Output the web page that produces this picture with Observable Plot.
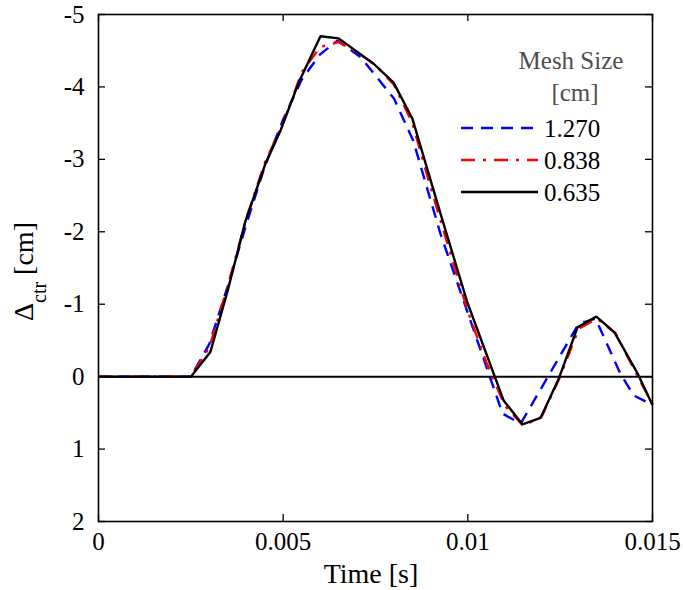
<!DOCTYPE html>
<html>
<head>
<meta charset="utf-8">
<script src="https://cdn.jsdelivr.net/npm/d3@7"></script>
<script src="https://cdn.jsdelivr.net/npm/@observablehq/plot@0.6"></script>
<style>
  html, body { margin: 0; padding: 0; background: #fff; }
  #chart svg { display: block; }
  #chart svg, #chart svg text { font-family: "Liberation Serif", "Times New Roman", serif; }
</style>
</head>
<body>
<div id="chart"></div>
<script>
// Mid-span deflection histories for three mesh sizes (time in s, deflection in cm)
const timeCoarse = [0, 0.0025, 0.003, 0.0035, 0.004, 0.0045, 0.005, 0.0055, 0.006, 0.00647, 0.0071, 0.008, 0.00852, 0.00926, 0.01094, 0.01143, 0.013, 0.01346, 0.01413, 0.01449, 0.015];
const deltaCoarse = [0, 0, -0.45, -1.25, -2.1, -2.9, -3.55, -4.1, -4.45, -4.64, -4.41, -3.84, -3.26, -1.97, 0.51, 0.65, -0.73, -0.8, -0.04, 0.26, 0.39];

const timeMedium = [0, 0.0025, 0.003, 0.0035, 0.004, 0.0045, 0.005, 0.0055, 0.006, 0.0065, 0.007, 0.0075, 0.008, 0.0085, 0.009, 0.0095, 0.01, 0.0105, 0.011, 0.0115, 0.012, 0.0125, 0.013, 0.0135, 0.014, 0.0145, 0.015];
const deltaMedium = [0, 0, -0.4, -1.25, -2.18, -2.95, -3.5, -4.2, -4.55, -4.62, -4.48, -4.3, -4.03, -3.5, -2.6, -1.75, -0.9, -0.2, 0.4, 0.68, 0.55, 0.0, -0.66, -0.8, -0.6, -0.1, 0.38];

const timeFine = [0, 0.0025, 0.00303, 0.00352, 0.00398, 0.00452, 0.00493, 0.00542, 0.00601, 0.0065, 0.00745, 0.00799, 0.0085, 0.00926, 0.00999, 0.01097, 0.01148, 0.01197, 0.01246, 0.01297, 0.01348, 0.01397, 0.0146, 0.015];
const deltaFine = [0, 0, -0.34, -1.23, -2.15, -2.94, -3.40, -4.06, -4.70, -4.67, -4.32, -4.06, -3.56, -2.25, -1.02, 0.33, 0.66, 0.57, 0.03, -0.68, -0.83, -0.61, -0.04, 0.39];

const meshSizes = ["1.270", "0.838", "0.635"];
const meshColors = ["#0000ff", "#ff0000", "#000000"];
const meshDash = ["12,8", "14,8,3,8", null];

const xTicks = [0, 0.005, 0.01, 0.015];
const xTickLabels = ["0", "0.005", "0.01", "0.015"];
const yTicks = [-5, -4, -3, -2, -1, 0, 1, 2];

const W = 683, H = 590;
const mL = 98, mR = 31, mT = 14, mB = 69;
const innerW = W - mL - mR, innerH = H - mT - mB;
const tickLen = 7;
const serif = "'Liberation Serif', 'Times New Roman', serif";

const toRows = (ts, ds) => ts.map((t, i) => ({t, d: ds[i]}));
const series = [
  toRows(timeCoarse, deltaCoarse),
  toRows(timeMedium, deltaMedium),
  toRows(timeFine, deltaFine)
];

const chart = Plot.plot({
  width: W,
  height: H,
  marginLeft: mL,
  marginRight: mR,
  marginTop: mT,
  marginBottom: mB,
  style: {fontFamily: serif, fontSize: "24px", color: "#000", background: "#fff"},
  x: {domain: [0, 0.015]},
  y: {domain: [-5, 2], reverse: true},
  marks: [
    // inward ticks on all four sides
    Plot.tickY(yTicks, {y: d => d, insetRight: innerW - tickLen, stroke: "#000", strokeWidth: 1.3}),
    Plot.tickY(yTicks, {y: d => d, insetLeft: innerW - tickLen, stroke: "#000", strokeWidth: 1.3}),
    Plot.tickX(xTicks, {x: d => d, insetTop: innerH - tickLen, stroke: "#000", strokeWidth: 1.3}),
    Plot.tickX(xTicks, {x: d => d, insetBottom: innerH - tickLen, stroke: "#000", strokeWidth: 1.3}),
    Plot.axisY(yTicks, {tickSize: 0, tickPadding: 14, fontSize: 25, fontFamily: serif, label: null, tickFormat: d => String(d)}),
    Plot.axisX(xTicks, {tickSize: 0, tickPadding: 11, fontSize: 25, fontFamily: serif, label: null, tickFormat: (d, i) => xTickLabels[i]}),
    Plot.ruleY([0], {stroke: "#000", strokeWidth: 2}),
    ...series.map((rows, i) => Plot.line(rows, {
      x: "t", y: "d",
      stroke: meshColors[i],
      strokeWidth: 2.4,
      strokeDasharray: meshDash[i],
      strokeLinejoin: "miter",
      strokeLinecap: "butt"
    })),
    Plot.frame({stroke: "#000", strokeWidth: 1.6})
  ]
});

const svg = d3.select(chart);

// axis titles
svg.append("text")
  .attr("x", mL + innerW / 2 - 4)
  .attr("y", 583)
  .attr("text-anchor", "middle")
  .attr("font-family", serif)
  .attr("font-size", 28)
  .attr("fill", "#000")
  .text("Time [s]");

const yLab = svg.append("text")
  .attr("transform", "translate(33, 321) rotate(-90)")
  .attr("text-anchor", "start")
  .attr("font-family", serif)
  .attr("font-size", 28)
  .attr("fill", "#000");
yLab.append("tspan").text("Δ");
yLab.append("tspan").attr("font-size", 20).attr("dy", 13).text("ctr");
yLab.append("tspan").attr("dy", -13).text(" [cm]");

// legend
const lg = svg.append("g").attr("font-size", 25).attr("font-family", serif);
lg.append("text").attr("x", 571).attr("y", 69).attr("text-anchor", "middle").attr("fill", "#4d4d4d").text("Mesh Size");
lg.append("text").attr("x", 575).attr("y", 101).attr("text-anchor", "middle").attr("fill", "#4d4d4d").text("[cm]");
meshSizes.forEach((m, i) => {
  const y = 128 + i * 32;
  lg.append("line")
    .attr("x1", 461).attr("x2", 538).attr("y1", y).attr("y2", y)
    .attr("stroke", meshColors[i]).attr("stroke-width", 2.4)
    .attr("stroke-dasharray", meshDash[i]);
  lg.append("text").attr("x", 544).attr("y", y + 9).attr("text-anchor", "start").attr("fill", "#000").text(m);
});

document.getElementById("chart").appendChild(chart);
</script>
</body>
</html>
